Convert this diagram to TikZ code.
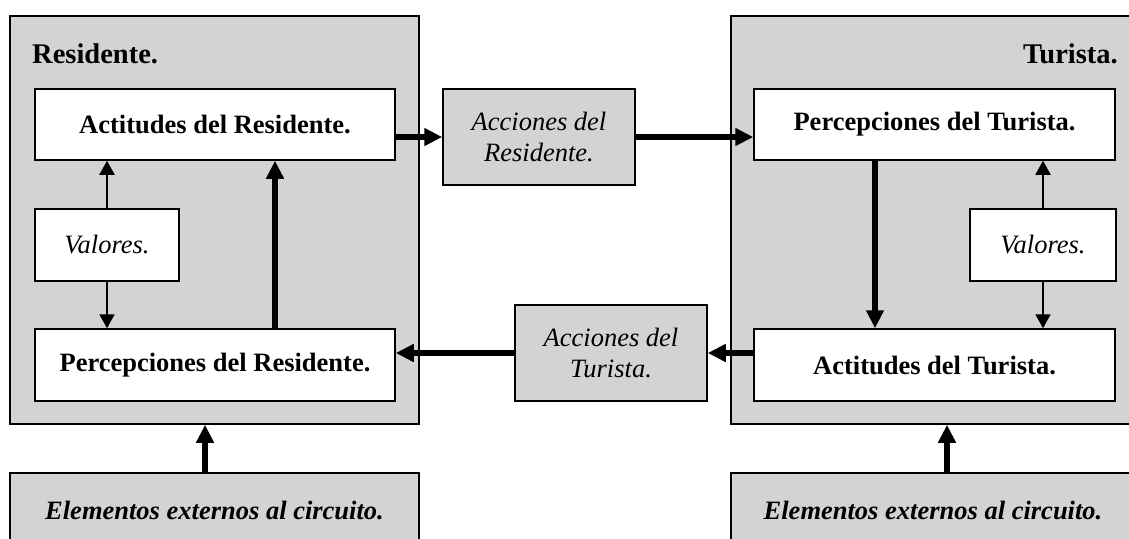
\documentclass[tikz,border=0pt]{standalone}
\usepackage{fontspec}
\setmainfont{Liberation Serif}
\usetikzlibrary{arrows.meta}
\definecolor{boxgray}{RGB}{211,211,211}
\begin{document}
\begin{tikzpicture}[x=1pt,y=-1pt,
  outerbox/.style={draw=black, fill=boxgray, line width=1.6pt, inner sep=0pt},
  whitebox/.style={draw=black, fill=white, line width=1.5pt, inner sep=0pt, align=center},
  graybox/.style={draw=black, fill=boxgray, line width=1.5pt, inner sep=0pt, align=center},
  btext/.style={font=\fontsize{26.5}{31}\selectfont\bfseries},
  itext/.style={font=\fontsize{26.5}{31}\selectfont\itshape},
  bitext/.style={font=\fontsize{26.5}{31}\selectfont\bfseries\itshape},
  htext/.style={font=\fontsize{28.5}{32}\selectfont\bfseries, inner sep=0pt},
  thickarrow/.style={line width=5.5pt, -{Triangle[length=18pt,width=17pt]}},
  thinarrow/.style={line width=1.9pt, -{Triangle[length=14pt,width=15pt]}}
]
\clip (0,0) rectangle (1129,538);

% outer boxes
\node[outerbox, minimum width=409pt, minimum height=408pt] (outL) at (214.5,220) {};
\node[outerbox, minimum width=419pt, minimum height=408pt] (outR) at (940.5,220) {};

% headers
\node[htext, anchor=base west] (hR) at (32,63) {Residente.};
\node[htext, anchor=base east] (hT) at (1118,63) {Turista.};

% left inner boxes
\node[whitebox, btext, minimum width=360pt, minimum height=71pt] (actL) at (215,124.5) {Actitudes del Residente.};
\node[whitebox, itext, minimum width=144pt, minimum height=72pt] (valL) at (107,245) {Valores.};
\node[whitebox, btext, minimum width=360pt, minimum height=72pt] (percL) at (215,365) {Percepciones del Residente.};

% right inner boxes
\node[whitebox, btext, minimum width=361pt, minimum height=71pt] (percT) at (934.5,124.5) {Percepciones del Turista.};
\node[whitebox, itext, minimum width=146pt, minimum height=72pt] (valT) at (1043,245) {Valores.};
\node[whitebox, btext, minimum width=361pt, minimum height=72pt] (actT) at (934.5,365) {Actitudes del Turista.};

% middle boxes
\node[graybox, itext, minimum width=192pt, minimum height=96pt] (acR) at (539,137) {Acciones del\\Residente.};
\node[graybox, itext, minimum width=192pt, minimum height=96pt] (acT) at (611,353) {Acciones del\\Turista.};

% bottom boxes
\node[outerbox, bitext, minimum width=409pt, minimum height=75pt] (elL) at (214.5,510.5) {Elementos externos al circuito.};
\node[outerbox, minimum width=419pt, minimum height=75pt] (elR) at (940.5,510.5) {};
\node[bitext, inner sep=0pt] (elRt) at (933,510.5) {Elementos externos al circuito.};

% left internal arrows
\draw[thinarrow] (valL.north) -- (valL.north |- actL.south);
\draw[thinarrow] (valL.south) -- (valL.south |- percL.north);
\draw[thickarrow] ([xshift=60pt]percL.north) -- ([xshift=60pt]actL.south);

% right internal arrows
\draw[thinarrow] (valT.north) -- (valT.north |- percT.south);
\draw[thinarrow] (valT.south) -- (valT.south |- actT.north);
\draw[thickarrow] ([xshift=-59.5pt]percT.south) -- ([xshift=-59.5pt]actT.north);

% cross arrows
\draw[thickarrow] (actL.east |- acR.west) -- (acR.west);
\draw[thickarrow] (acR.east) -- (acR.east -| percT.west);
\draw[thickarrow] (acT.east -| actT.west) -- (acT.east);
\draw[thickarrow] (acT.west) -- (acT.west -| percL.east);

% external arrows
\draw[thickarrow] ([xshift=-9.5pt]elL.north) -- ([xshift=-9.5pt]outL.south);
\draw[thickarrow] ([xshift=6.5pt]elR.north) -- ([xshift=6.5pt]outR.south);
\end{tikzpicture}
\end{document}
